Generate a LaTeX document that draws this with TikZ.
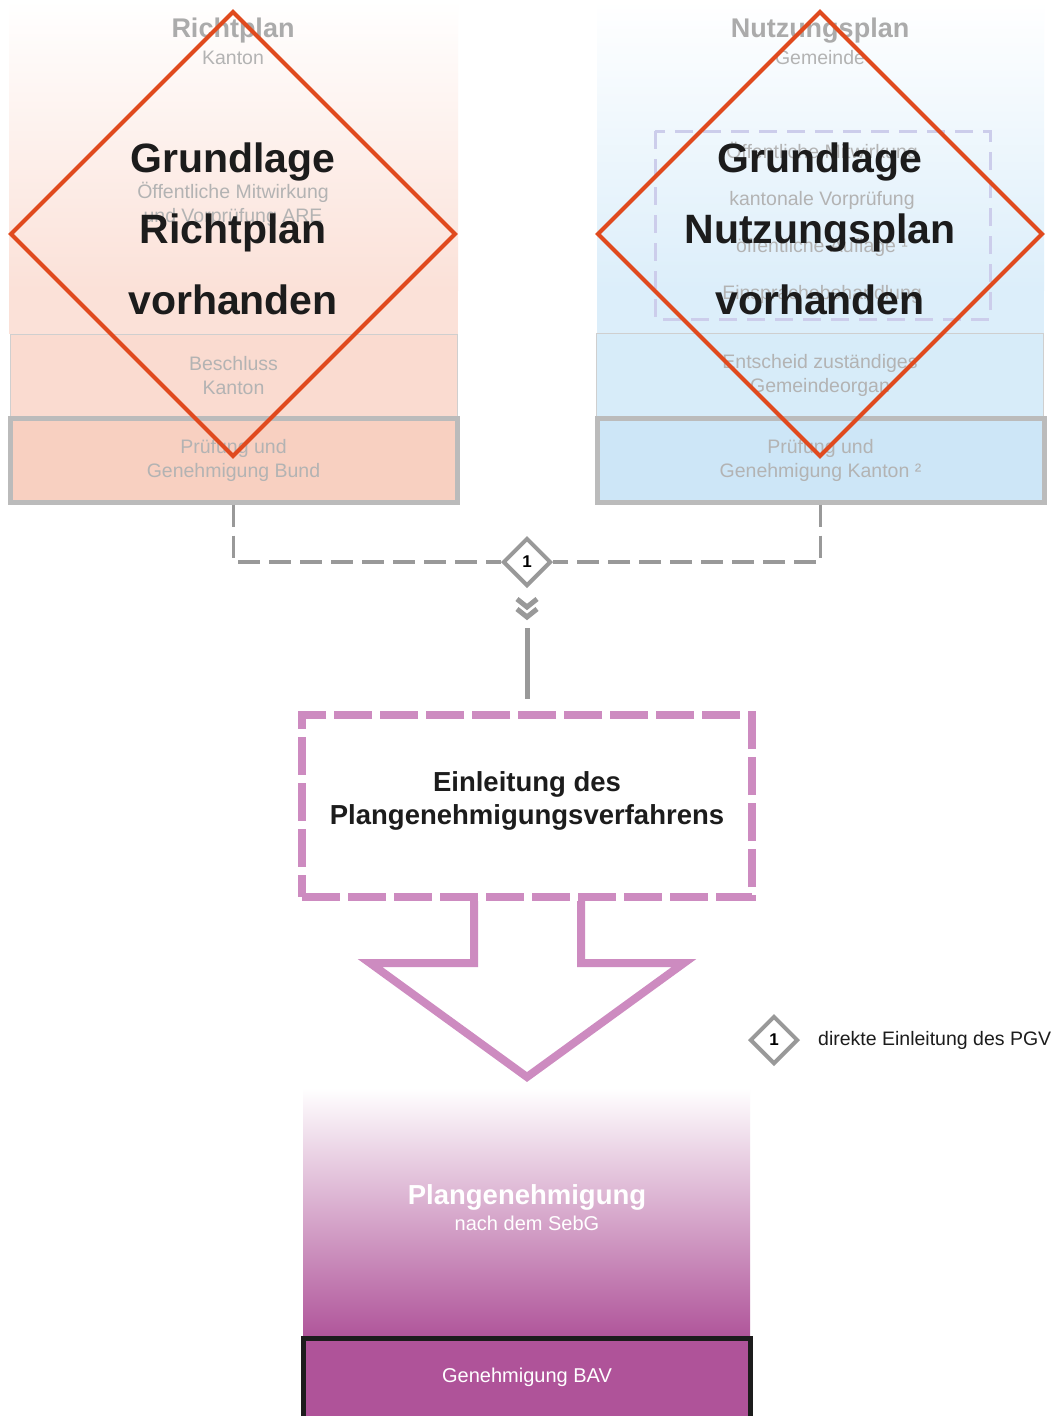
\documentclass[tikz,border=0pt]{standalone}
\usepackage{fontspec}
\setmainfont{Liberation Sans}
\usetikzlibrary{positioning,calc,shapes.geometric}
\definecolor{planred}{HTML}{E04A1E}
\definecolor{ink}{HTML}{1C1C1C}
\definecolor{fadegray}{HTML}{B3B3B3}
\definecolor{titlegray}{HTML}{ABABAB}
\definecolor{boxgray}{HTML}{BBBBBB}
\definecolor{linkgray}{HTML}{999999}
\definecolor{salmonlight}{HTML}{FBE1D8}
\definecolor{salmonmid}{HTML}{FADBD0}
\definecolor{salmondark}{HTML}{F8D0C1}
\definecolor{skylight}{HTML}{DCEEFA}
\definecolor{skymid}{HTML}{D7ECF9}
\definecolor{skydark}{HTML}{CDE6F7}
\definecolor{lavender}{HTML}{CCCDEB}
\definecolor{pinkline}{HTML}{CD8BC0}
\definecolor{bavpurple}{HTML}{AF5399}

\begin{document}
\begin{tikzpicture}[x=1pt,y=-1pt,
  bigtext/.style={text=ink,align=center,font=\fontsize{41}{71}\selectfont\bfseries},
  fadetext/.style={text=fadegray,align=center,font=\fontsize{19.5}{24}\selectfont},
  paneltitle/.style={text=titlegray,font=\fontsize{27}{32}\selectfont\bfseries},
  stagebox/.style={draw=boxgray!70,line width=1pt,minimum width=447pt,minimum height=83pt,fadetext},
  approvebox/.style={draw=boxgray,line width=5pt,minimum width=447pt,minimum height=84pt,fadetext},
  plandiamond/.style={draw=planred,line width=4pt,line join=miter},
  linkdash/.style={draw=linkgray,line width=3.5pt,dash pattern=on 22pt off 9pt},
  stepdiamond/.style={diamond,aspect=1,draw=linkgray,line width=4pt,fill=white,minimum size=48pt,inner sep=0pt,font=\fontsize{17}{20}\selectfont\bfseries},
  startbox/.style={draw=pinkline,line width=8pt,dash pattern=on 38pt off 8pt,minimum width=450pt,minimum height=182pt},
  permitbox/.style={top color=white,bottom color=bavpurple,minimum width=447pt,minimum height=252pt,inner sep=0pt},
  bavbox/.style={draw=ink,line width=5pt,fill=bavpurple,minimum width=447pt,minimum height=86pt},
  whitetext/.style={text=white,font=\fontsize{20}{24}\selectfont}]
  \path[use as bounding box,clip] (0,0) rectangle (1052,1416);
  \fill[white] (0,0) rectangle (1052,1416);

  \shade[top color=white,bottom color=salmonlight] (9,0) rectangle (458,290);
  \fill[salmonlight] (9,290) rectangle (458,334);
  \shade[top color=white,bottom color=skylight] (597,0) rectangle (1044,290);
  \fill[skylight] (597,290) rectangle (1044,334);

  \node[paneltitle] (richttitle) at (233,31) {Richtplan};
  \node[fadetext] (richtsub) at (233,58) {Kanton};
  \node[fadetext] (mitwirkL) at (233,204) {Öffentliche Mitwirkung\\und Vorprüfung ARE};
  \node[stagebox,fill=salmonmid] (beschlussL) at (233.5,376) {Beschluss\\Kanton};
  \node[approvebox,fill=salmondark] (pruefL) at (233.5,460) {Prüfung und\\Genehmigung Bund};

  \node[paneltitle] (nutztitle) at (820,31) {Nutzungsplan};
  \node[fadetext] (nutzsub) at (820,58) {Gemeinde};
  \draw[lavender,line width=3pt,dash pattern=on 18pt off 10pt] (655,131) rectangle (990,319);
  \node[fadetext,font=\fontsize{19.5}{47}\selectfont] (ablaufR) at (822,223) {Öffentliche Mitwirkung\\kantonale Vorprüfung\\öffentliche Auflage ¹\\Einsprachebehandlung};
  \node[stagebox,fill=skymid] (entscheidR) at (820,375) {Entscheid zuständiges\\Gemeindeorgan};
  \node[approvebox,fill=skydark] (pruefR) at (820.5,460) {Prüfung und\\Genehmigung Kanton ²};

  \draw[plandiamond] (233,12) -- (455,234) -- (233,456) -- (11,234) -- cycle;
  \draw[plandiamond] (820,12) -- (1042,234) -- (820,456) -- (598,234) -- cycle;
  \node[bigtext] (grundL) at (233,229) {Grundlage\\Richtplan\\vorhanden};
  \node[bigtext] (grundR) at (820,229) {Grundlage\\Nutzungsplan\\vorhanden};

  \node[stepdiamond] (d1) at (527,562) {1};
  \draw[linkdash] (pruefL.south) |- (d1.west);
  \draw[linkdash] (pruefR.south) |- (d1.east);
  \foreach \dy in {11,21} \draw[linkgray,line width=5pt] ($(d1.south)+(-10,\dy)$) -- ++(10,8) -- ++(10,-8);

  \node[startbox] (einl) at (527,806) {};
  \node[text=ink,align=center,font=\fontsize{27.5}{33}\selectfont\bfseries] (einltext) at (527,801) {Einleitung des\\Plangenehmigungsverfahrens};
  \draw[linkgray,line width=5pt,shorten >=12pt] ($(d1.south)+(0,40)$) -- (einl.north);

  \draw[pinkline,line width=8pt,line join=miter] (474,901) -- (474,963) -- (370,963) -- (527,1077) -- (684,963) -- (581,963) -- (581,901);

  \node[stepdiamond] (legd) at (774,1040) {1};
  \node[right=18pt of legd,inner sep=0pt,text=ink,font=\fontsize{19.5}{24}\selectfont] (legtext) {direkte Einleitung des PGV};

  \node[permitbox] (plangen) at (526.5,1214) {};
  \node[text=white,font=\fontsize{27.5}{32}\selectfont\bfseries] (pgtitle) at (527,1197) {Plangenehmigung};
  \node[whitetext] (pgsub) at (527,1223) {nach dem SebG};
  \node[bavbox] (bav) at (526.5,1381) {};
  \node[whitetext] (bavtext) at (527,1377) {Genehmigung BAV};
\end{tikzpicture}
\end{document}
